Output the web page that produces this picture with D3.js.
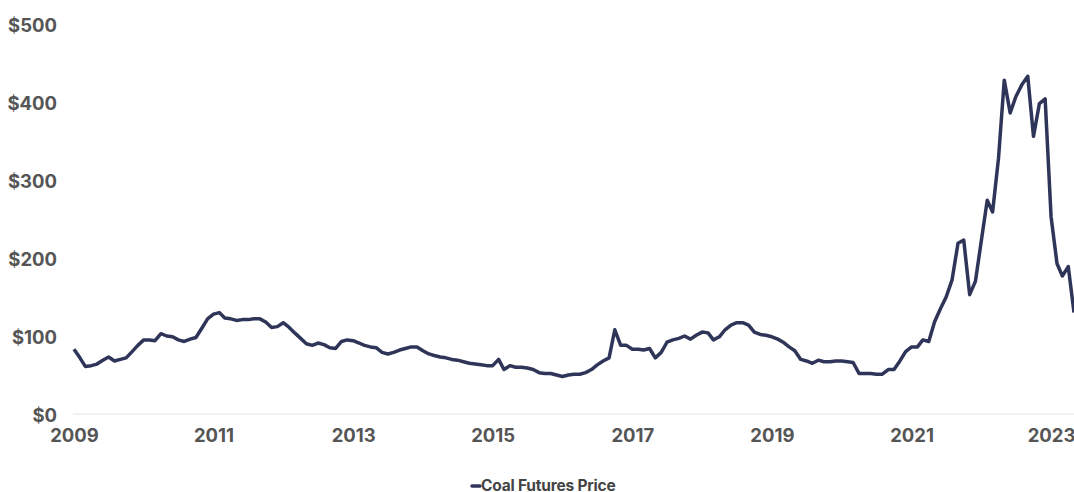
<!DOCTYPE html>
<html>
<head>
<meta charset="utf-8">
<script src="https://cdn.jsdelivr.net/npm/d3@7"></script>
<style>
  html, body { margin: 0; padding: 0; background: #ffffff; }
  svg { display: block; font-family: Inter, "Open Sans", Arial, sans-serif; }
</style>
</head>
<body>
<svg id="chart" width="1074" height="492"></svg>
<script>
// Monthly coal futures price, Jan 2009 .. May 2023 (USD/ton)
const startMonth = "2009-01";
const prices = [
  83, 72, 61, 62, 64, 69, 73, 68, 70, 72, 80, 88,        // 2009
  95, 95, 94, 103, 100, 99, 95, 93, 96, 98, 110, 122,    // 2010
  128, 130, 123, 122, 120, 121, 121, 122, 122, 118, 111, 112, // 2011
  117, 111, 104, 97, 90, 88, 91, 89, 85, 84, 93, 95,     // 2012
  94, 91, 88, 86, 85, 79, 77, 79, 82, 84, 86, 86,        // 2013
  81, 77, 75, 73, 72, 70, 69, 67, 65, 64, 63, 62,        // 2014
  62, 70, 57, 62, 60, 60, 59, 57, 53, 52, 52, 50,        // 2015
  48, 50, 51, 51, 53, 57, 63, 68, 72, 108, 88, 88,       // 2016
  83, 83, 82, 84, 72, 79, 92, 95, 97, 100, 96, 101,      // 2017
  105, 104, 95, 99, 108, 114, 117, 117, 114, 105, 102, 101, // 2018
  99, 96, 92, 86, 81, 70, 68, 65, 69, 67, 67, 68,        // 2019
  68, 67, 66, 52, 52, 52, 51, 51, 57, 57, 68, 80,        // 2020
  86, 86, 95, 93, 118, 135, 150, 172, 219, 223, 153, 170, // 2021
  222, 274, 259, 328, 428, 386, 407, 422, 433, 356, 398, 404, // 2022
  253, 193, 177, 189, 130                                // 2023
];
const seriesName = "Coal Futures Price";
const yTicks = [0, 100, 200, 300, 400, 500];
const xTickYears = [2009, 2011, 2013, 2015, 2017, 2019, 2021, 2023];

const parseMonth = d3.timeParse("%Y-%m");
const t0 = parseMonth(startMonth);
const data = prices.map((v, i) => ({ date: d3.timeMonth.offset(t0, i), value: v }));

const svg = d3.select("#chart");
const x = d3.scaleTime()
  .domain([data[0].date, data[data.length - 1].date])
  .range([74, 1074]);
const y = d3.scaleLinear().domain([0, 500]).range([414, 24]);

// baseline gridline
svg.append("line")
  .attr("x1", 73).attr("x2", 1074)
  .attr("y1", y(0)).attr("y2", y(0))
  .attr("stroke", "#e3e3e3").attr("stroke-width", 1);

// y axis labels
const yAxis = d3.axisLeft(y).tickValues(yTicks).tickFormat(d => "$" + d).tickSize(0).tickPadding(0);
const gy = svg.append("g").attr("transform", "translate(57,0)").call(yAxis);
gy.select(".domain").remove();
gy.selectAll("text")
  .attr("font-family", "Inter, Arial, sans-serif")
  .attr("font-size", 18.5).attr("font-weight", 700).attr("fill", "#555555")
  .attr("dy", "0.38em");

// x axis labels
const xAxis = d3.axisBottom(x)
  .tickValues(xTickYears.map(yr => new Date(yr, 0, 1)))
  .tickFormat(d3.timeFormat("%Y")).tickSize(0).tickPadding(0);
const gx = svg.append("g").attr("transform", "translate(0,427)").call(xAxis);
gx.select(".domain").remove();
gx.selectAll("text")
  .attr("font-family", "Inter, Arial, sans-serif")
  .attr("font-size", 18.5).attr("font-weight", 700).attr("fill", "#555555")
  .attr("dy", "0.8em");

// line
const line = d3.line().x(d => x(d.date)).y(d => y(d.value));
svg.append("path")
  .datum(data)
  .attr("fill", "none")
  .attr("stroke", "#2f3558")
  .attr("stroke-width", 3.5)
  .attr("stroke-linejoin", "round")
  .attr("d", line);

// legend
const lg = svg.append("g").attr("transform", "translate(472,486)");
lg.append("line").attr("x1", 0).attr("x2", 8).attr("y1", 0).attr("y2", 0)
  .attr("stroke", "#2f3558").attr("stroke-width", 3.5).attr("stroke-linecap", "round");
lg.append("text").attr("x", 9).attr("y", 4.5)
  .attr("font-family", "Inter, Arial, sans-serif")
  .attr("font-size", 15.5).attr("font-weight", 700).attr("fill", "#444444")
  .attr("letter-spacing", "-0.2px")
  .text(seriesName);
</script>
</body>
</html>
